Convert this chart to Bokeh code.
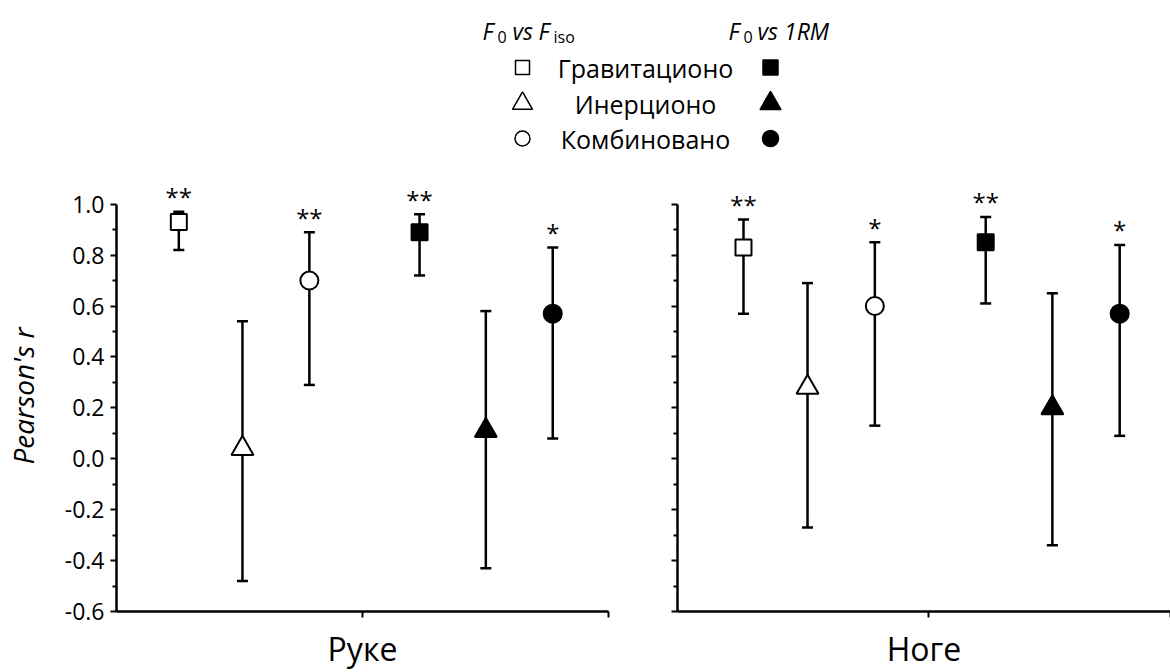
from bokeh.plotting import figure
from bokeh.models import (Range1d, Whisker, TeeHead, ColumnDataSource,
                          FixedTicker, CustomJSTickFormatter)
from bokeh.layouts import column, row
from bokeh.core.properties import value
from bokeh.embed import file_html
from bokeh.resources import INLINE

# ---------------- data ----------------
panels = ["Руке", "Ноге"]
conditions = ["Гравитационо", "Инерционо", "Комбиновано"]

# Руке (arms)
arms_fiso_r = [0.93, 0.04, 0.70]
arms_fiso_lo = [0.82, -0.48, 0.29]
arms_fiso_hi = [0.97, 0.54, 0.89]
arms_fiso_sig = ["**", "", "**"]
arms_1rm_r = [0.89, 0.11, 0.57]
arms_1rm_lo = [0.72, -0.43, 0.08]
arms_1rm_hi = [0.96, 0.58, 0.83]
arms_1rm_sig = ["**", "", "*"]

# Ноге (legs)
legs_fiso_r = [0.83, 0.28, 0.60]
legs_fiso_lo = [0.57, -0.27, 0.13]
legs_fiso_hi = [0.94, 0.69, 0.85]
legs_fiso_sig = ["**", "", "*"]
legs_1rm_r = [0.85, 0.20, 0.57]
legs_1rm_lo = [0.61, -0.34, 0.09]
legs_1rm_hi = [0.95, 0.65, 0.84]
legs_1rm_sig = ["**", "", "*"]

y_ticks = [-0.6, -0.4, -0.2, 0.0, 0.2, 0.4, 0.6, 0.8, 1.0]
y_minor = [-0.5, -0.3, -0.1, 0.1, 0.3, 0.5, 0.7, 0.9]

# ---------------- layout constants ----------------
FONT = "Open Sans"
OFFSETS = [-2.8, -1.83, -0.81, 0.87, 1.88, 2.9]
MARKERS = ["square", "triangle", "circle"]
SIZES = {"square": 16, "triangle": 22, "circle": 18}
TOP_H = 170
LOW_H = 502


def panel(name, fr, flo, fhi, fsig, mr, mlo, mhi, msig, width, xr, mb_left, mb_right, first):
    p = figure(width=width, height=LOW_H, x_range=Range1d(*xr),
               y_range=Range1d(y_ticks[0], 1.093), output_backend="svg",
               toolbar_location=None, min_border_left=mb_left, min_border_right=mb_right,
               min_border_top=10, min_border_bottom=61)
    p.outline_line_color = None
    p.grid.visible = False

    xs = list(OFFSETS)
    rs = list(fr) + list(mr)
    los = list(flo) + list(mlo)
    his = list(fhi) + list(mhi)
    sigs = list(fsig) + list(msig)
    mk = MARKERS + MARKERS
    fills = ["white"] * 3 + ["black"] * 3
    sizes = [SIZES[m] for m in mk]
    src = ColumnDataSource(dict(x=xs, r=rs, lo=los, hi=his, sig=sigs, marker=mk,
                                fill=fills, size=sizes))

    w = Whisker(source=src, base="x", upper="hi", lower="lo", dimension="height",
                line_width=2.5, line_color="black",
                upper_head=TeeHead(size=11, line_width=2.5, line_color="black"),
                lower_head=TeeHead(size=11, line_width=2.5, line_color="black"))
    p.add_layout(w)
    p.scatter("x", "r", source=src, marker="marker", size="size", fill_color="fill",
              line_color="black", line_width=2)
    p.text("x", "hi", text="sig", source=src, text_align="center", text_baseline="alphabetic",
           y_offset=-15, text_font=value(FONT), text_font_size="24px", text_color="black")

    # y axis
    ya = p.yaxis[0]
    ya.ticker = FixedTicker(ticks=y_ticks, minor_ticks=y_minor)
    ya.bounds = (y_ticks[0], y_ticks[-1])
    ya.axis_line_width = 2.5
    ya.major_tick_line_width = 2
    ya.minor_tick_line_width = 2
    ya.major_tick_out = 6
    ya.major_tick_in = 0
    ya.minor_tick_out = 4
    ya.minor_tick_in = 0
    if first:
        ya.axis_label = "Pearson's r"
        ya.axis_label_text_font = FONT
        ya.axis_label_text_font_style = "italic"
        ya.axis_label_text_font_size = "28px"
        ya.axis_label_text_color = "black"
        ya.axis_label_standoff = 20
        ya.major_label_text_font = FONT
        ya.major_label_text_font_size = "23px"
        ya.major_label_text_color = "black"
        ya.major_label_standoff = 6
        ya.formatter = CustomJSTickFormatter(code="return tick.toFixed(1);")
    else:
        ya.formatter = CustomJSTickFormatter(code="return '';")
        ya.major_label_text_font_size = "1px"

    # x axis
    xa = p.xaxis[0]
    xa.ticker = FixedTicker(ticks=[0, xr[1]])
    xa.minor_tick_line_color = None
    xa.axis_line_width = 2.5
    xa.major_tick_line_width = 2
    xa.major_tick_out = 6
    xa.major_tick_in = 0
    xa.formatter = CustomJSTickFormatter(code="return '';")
    xa.major_label_text_font_size = "1px"
    xa.axis_label = name
    xa.axis_label_text_font = FONT
    xa.axis_label_text_font_style = "normal"
    xa.axis_label_text_font_size = "32px"
    xa.axis_label_text_color = "black"
    xa.axis_label_standoff = 9
    return p


left = panel(panels[0], arms_fiso_r, arms_fiso_lo, arms_fiso_hi, arms_fiso_sig,
             arms_1rm_r, arms_1rm_lo, arms_1rm_hi, arms_1rm_sig,
             width=640, xr=(-3.75, 3.75), mb_left=113, mb_right=32, first=True)
right = panel(panels[1], legs_fiso_r, legs_fiso_lo, legs_fiso_hi, legs_fiso_sig,
              legs_1rm_r, legs_1rm_lo, legs_1rm_hi, legs_1rm_sig,
              width=530, xr=(-3.80, 3.67), mb_left=37, mb_right=0, first=False)

# ---------------- legend (top) ----------------
top = figure(width=1170, height=TOP_H, x_range=Range1d(0, 1170), y_range=Range1d(TOP_H, 0),
             output_backend="svg", toolbar_location=None, x_axis_type=None, y_axis_type=None,
             min_border=0)
top.outline_line_color = None
top.grid.visible = False


def piece(x, y, t, size, style):
    top.text([x], [y], text=[t], text_font=value(FONT), text_font_size=size,
             text_font_style=style, text_align="left", text_baseline="alphabetic",
             text_color="black")


# header: F0 vs Fiso
piece(482, 30, "F", "23px", "italic")
piece(497, 36, "0", "16px", "normal")
piece(512, 30, "vs", "23px", "italic")
piece(538, 30, "F", "23px", "italic")
piece(553, 36, "iso", "16px", "normal")
# header: F0 vs 1RM
piece(728, 30, "F", "23px", "italic")
piece(743, 36, "0", "16px", "normal")
piece(757, 30, "vs 1RM", "23px", "italic")

leg_y = [67, 103, 138]
top.text([645] * 3, leg_y, text=conditions, text_font=value(FONT), text_font_size="25px",
         text_align="center", text_baseline="middle", text_color="black")
top.scatter([522] * 3, leg_y, marker=MARKERS, size=[14, 20, 15], fill_color="white",
            line_color="black", line_width=1.5)
top.scatter([770] * 3, leg_y, marker=MARKERS, size=[15, 21, 16], fill_color="black",
            line_color="black", line_width=1.5)

layout = column(top, row(left, right, spacing=0), spacing=0)
open("out.html", "w").write(file_html(layout, INLINE))
